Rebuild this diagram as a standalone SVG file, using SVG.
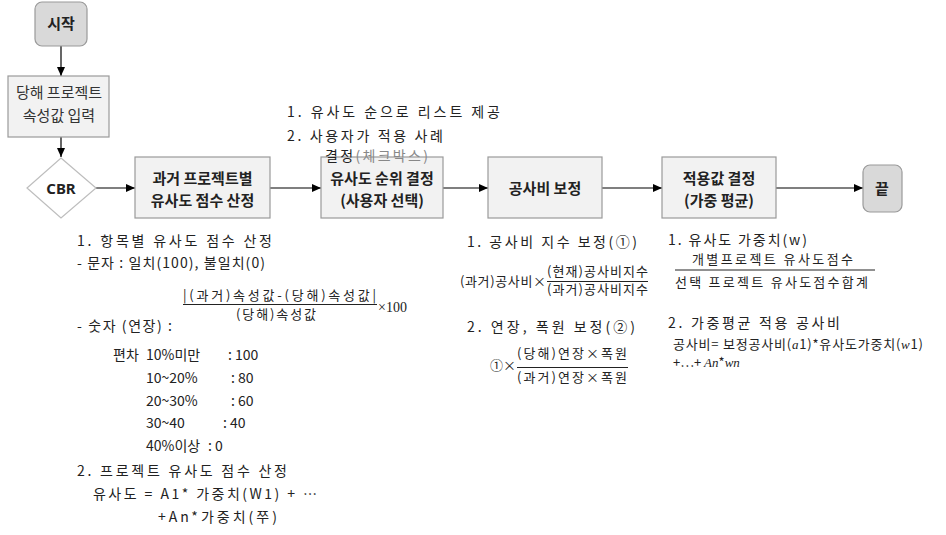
<svg xmlns="http://www.w3.org/2000/svg" width="946" height="535" viewBox="0 0 946 535">
<defs>
<marker id="arr" markerWidth="10" markerHeight="10" refX="9" refY="5" orient="auto" markerUnits="userSpaceOnUse">
<path d="M0,1 L9,5 L0,9 Z" fill="#000"/>
</marker>
<style>
.term{fill:#d9d9d9;stroke:#9a9a9a;stroke-width:1.2}
.proc{fill:#f2f2f2;stroke:#9a9a9a;stroke-width:1.2}
.dec{fill:#fff;stroke:#bdbdbd;stroke-width:1.2}
.bt{font-family:"Noto Sans CJK KR","Noto Sans",sans-serif;font-size:15px;font-weight:bold;fill:#222;text-anchor:middle}
.nt{font-family:"Noto Sans CJK KR","Noto Sans",sans-serif;font-size:15px;fill:#333;text-anchor:middle}
.an{font-family:"Noto Sans CJK KR",sans-serif;font-size:14px;fill:#222}
.sm{font-family:"Noto Sans CJK KR",sans-serif;font-size:13px;fill:#222}
.tm{font-family:"Liberation Serif",serif;font-size:14px;fill:#222}
.it{font-family:"Liberation Serif",serif;font-style:italic}
.conn{stroke:#000;stroke-width:1.2;fill:none}
.fl{stroke:#222;stroke-width:1}
</style>
</defs>
<rect width="946" height="535" fill="#fff"/>

<g id="connectors">
<line class="conn" x1="61" y1="46" x2="61" y2="76" marker-end="url(#arr)"/>
<line class="conn" x1="61" y1="137" x2="61" y2="157" marker-end="url(#arr)"/>
<line class="conn" x1="96" y1="188" x2="135" y2="188" marker-end="url(#arr)"/>
<line class="conn" x1="270" y1="188" x2="321" y2="188" marker-end="url(#arr)"/>
<line class="conn" x1="443" y1="188" x2="488" y2="188" marker-end="url(#arr)"/>
<line class="conn" x1="602" y1="188" x2="662" y2="188" marker-end="url(#arr)"/>
<line class="conn" x1="776" y1="188" x2="863" y2="188" marker-end="url(#arr)"/>
</g>

<g id="start">
<rect class="term" x="35" y="2" width="52" height="44" rx="7"/>
<text class="bt" x="61" y="29">시작</text>
</g>

<g id="input">
<rect class="proc" x="8" y="76" width="101" height="61"/>
<text class="nt" x="59" y="98">당해 프로젝트</text>
<text class="nt" x="59" y="121">속성값 입력</text>
</g>

<g id="cbr">
<polygon class="dec" points="61,158 96,188 61,218 27,188"/>
<text class="bt" x="61" y="194" style="font-family:'Noto Sans',sans-serif">CBR</text>
</g>

<g id="similarity">
<rect class="proc" x="135" y="157" width="135" height="61"/>
<text class="bt" x="202.5" y="184">과거 프로젝트별</text>
<text class="bt" x="202.5" y="206">유사도 점수 산정</text>
</g>

<g id="rank">
<rect class="proc" x="321" y="157" width="122" height="61"/>
<text class="bt" x="382" y="184">유사도 순위 결정</text>
<text class="bt" x="382" y="206">(사용자 선택)</text>
</g>

<g id="annot-rank">
<text class="an" x="287" y="117" textLength="213" lengthAdjust="spacing">1. 유사도 순으로 리스트 제공</text>
<text class="an" x="287" y="141" textLength="156" lengthAdjust="spacing">2. 사용자가 적용 사례</text>
<text class="an" x="325" y="161" textLength="103" lengthAdjust="spacing">결정<tspan fill="#888">(체크박스)</tspan></text>
</g>

<g id="cost">
<rect class="proc" x="488" y="157" width="114" height="61"/>
<text class="bt" x="545" y="194">공사비 보정</text>
</g>

<g id="apply">
<rect class="proc" x="662" y="157" width="114" height="61"/>
<text class="bt" x="719" y="184">적용값 결정</text>
<text class="bt" x="719" y="206">(가중 평균)</text>
</g>

<g id="end">
<rect class="term" x="863" y="165" width="39" height="47" rx="7"/>
<text class="bt" x="882" y="194">끝</text>
</g>

<g id="annot-left">
<text class="an" x="77" y="246" textLength="195" lengthAdjust="spacing">1. 항목별 유사도 점수 산정</text>
<text class="an" x="77" y="268" textLength="188" lengthAdjust="spacing">- 문자 :  일치(100),  불일치(0)</text>
<text class="sm" x="183" y="300" textLength="193" lengthAdjust="spacing">|(과거)속성값-(당해)속성값|</text>
<line class="fl" x1="183" y1="304.5" x2="377" y2="304.5"/>
<text class="sm" x="236" y="319" textLength="80" lengthAdjust="spacing">(당해)속성값</text>
<text class="tm" x="378" y="312">×100</text>
<text class="an" x="77" y="331" textLength="95" lengthAdjust="spacing">- 숫자 (연장) :</text>
<text class="an" x="113" y="360">편차</text>
<text class="an" x="146" y="360">10%미만</text>
<text class="an" x="228" y="360">: 100</text>
<text class="an" x="146" y="383">10~20%</text>
<text class="an" x="231" y="383">: 80</text>
<text class="an" x="146" y="406">20~30%</text>
<text class="an" x="231" y="406">: 60</text>
<text class="an" x="146" y="428">30~40</text>
<text class="an" x="223" y="428">: 40</text>
<text class="an" x="146" y="451">40%이상</text>
<text class="an" x="208" y="451">: 0</text>
<text class="an" x="77" y="476" textLength="210" lengthAdjust="spacing">2. 프로젝트 유사도 점수 산정</text>
<text class="an" x="93" y="499" textLength="224" lengthAdjust="spacing">유사도 =  A1*  가중치(W1)  +  …</text>
<text class="an" x="158" y="522" textLength="119" lengthAdjust="spacing">+An*가중치(쭈)</text>
</g>

<g id="annot-mid">
<text class="an" x="467" y="247" textLength="170" lengthAdjust="spacing">1. 공사비 지수 보정(①)</text>
<text class="sm" x="460" y="286" textLength="86" lengthAdjust="spacing">(과거)공사비×</text>
<text class="sm" x="547" y="276" textLength="101" lengthAdjust="spacing">(현재)공사비지수</text>
<line class="fl" x1="547" y1="281.5" x2="648" y2="281.5"/>
<text class="sm" x="547" y="294" textLength="101" lengthAdjust="spacing">(과거)공사비지수</text>
<text class="an" x="467" y="332" textLength="168" lengthAdjust="spacing">2. 연장, 폭원 보정(②)</text>
<text class="sm" x="490" y="370">①×</text>
<text class="sm" x="517" y="358" textLength="110" lengthAdjust="spacing">(당해)연장×폭원</text>
<line class="fl" x1="517" y1="367.5" x2="628" y2="367.5"/>
<text class="sm" x="517" y="382" textLength="110" lengthAdjust="spacing">(과거)연장×폭원</text>
</g>

<g id="annot-right">
<text class="an" x="668" y="245" textLength="139" lengthAdjust="spacing">1. 유사도 가중치(w)</text>
<text class="sm" x="692" y="264" textLength="161" lengthAdjust="spacing">개별프로젝트  유사도점수</text>
<line class="fl" x1="675" y1="270" x2="875" y2="270"/>
<text class="sm" x="675" y="287" textLength="193" lengthAdjust="spacing">선택 프로젝트  유사도점수합계</text>
<text class="an" x="668" y="328" textLength="172" lengthAdjust="spacing">2. 가중평균 적용 공사비</text>
<text class="sm" x="673" y="349" textLength="250" lengthAdjust="spacing">공사비= 보정공사비(<tspan class="it">a</tspan>1)*유사도가중치(<tspan class="it">w</tspan>1)</text>
<text class="sm" x="673" y="367">+…+ <tspan class="it">An</tspan>*<tspan class="it">wn</tspan></text>
</g>
</svg>
